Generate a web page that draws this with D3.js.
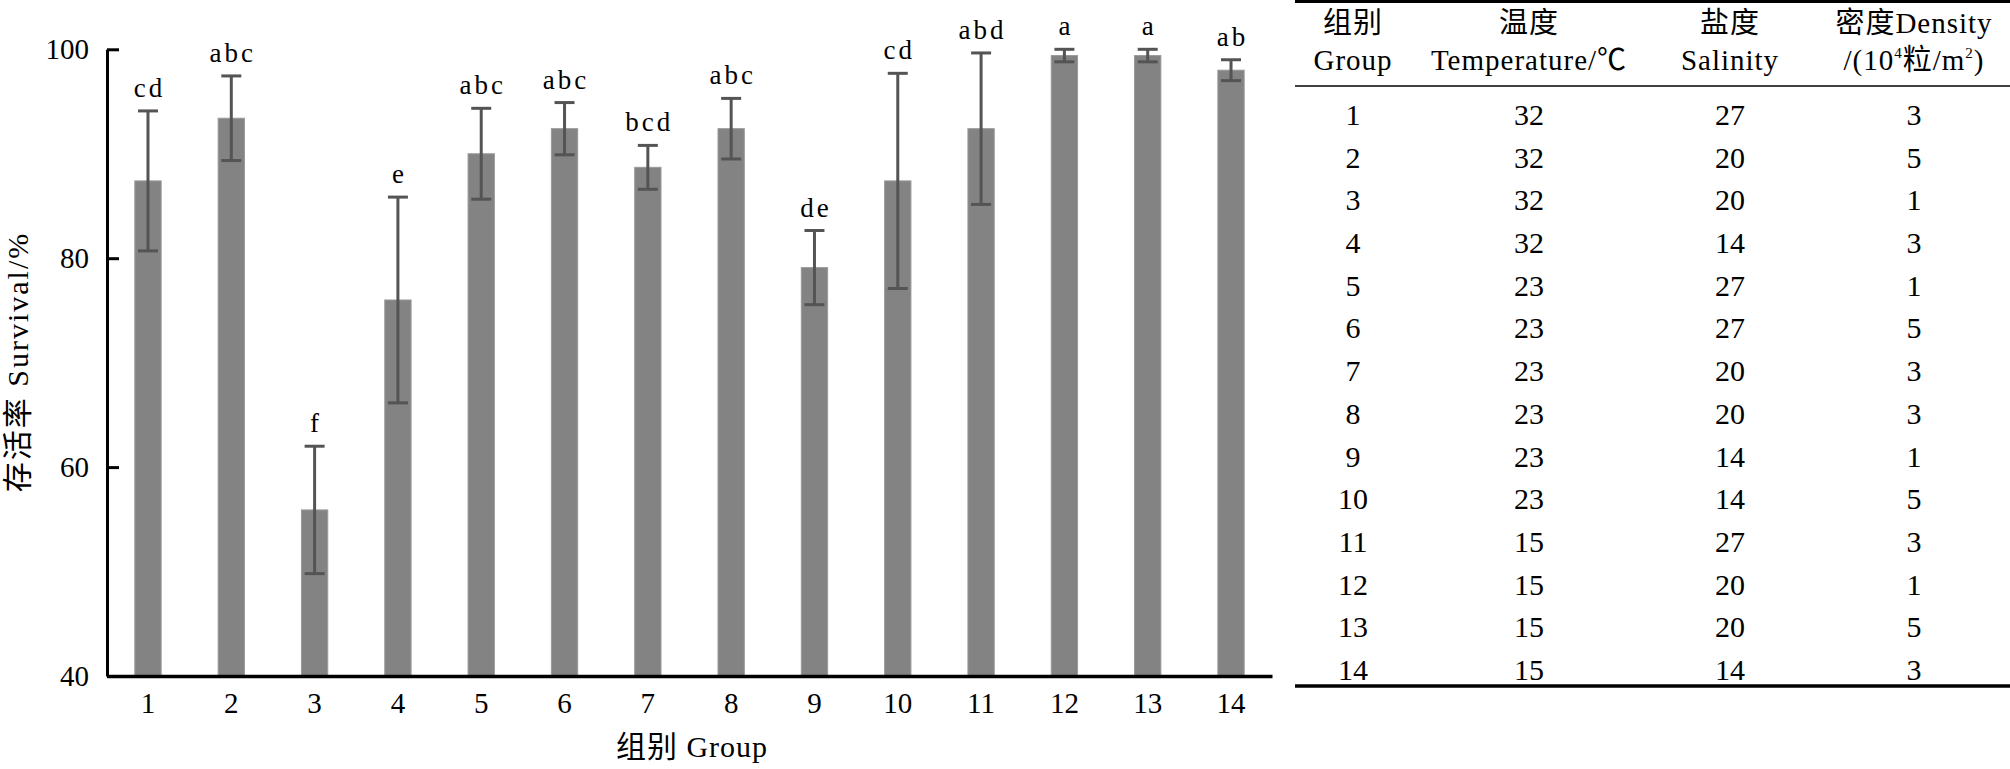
<!DOCTYPE html>
<html>
<head>
<meta charset="utf-8">
<script src="https://cdn.jsdelivr.net/npm/d3@7"></script>
<style>
  html, body { margin: 0; padding: 0; background: #fff; }
  svg text { font-family: "Liberation Serif", "Times New Roman", "Noto Sans CJK SC", serif; fill: #000; }
</style>
</head>
<body>
<svg id="chart" width="2010" height="769"></svg>
<script>
// ---------- data ----------
const groups = ["1","2","3","4","5","6","7","8","9","10","11","12","13","14"];
const survival = [87.4, 93.4, 55.9, 76.0, 90.0, 92.4, 88.7, 92.4, 79.1, 87.4, 92.4, 99.4, 99.4, 98.0];
const survivalErr = [6.7, 4.05, 6.1, 9.85, 4.35, 2.5, 2.1, 2.9, 3.55, 10.3, 7.25, 0.6, 0.6, 1.0];
const letters = ["cd","abc","f","e","abc","abc","bcd","abc","de","cd","abd","a","a","ab"];
const yTicks = [40, 60, 80, 100];

const temperature = [32,32,32,32,23,23,23,23,23,23,15,15,15,15];
const salinity = [27,20,20,14,27,27,20,20,14,14,27,20,20,14];
const density = [3,5,1,3,1,5,3,3,1,5,3,1,5,3];
const headerTop = ["组别", "温度", "盐度", "密度Density"];
const headerBottom = ["Group", "Temperature/℃", "Salinity", null];

const yTitle = "存活率 Survival/%";
const xTitle = "组别 Group";

// ---------- chart ----------
const svg = d3.select("#chart");
const x = d3.scaleBand().domain(groups).range([107, 1272]).paddingInner(0.684).paddingOuter(0.334);
const y = d3.scaleLinear().domain([40, 100]).range([676, 49.3]);

const g = svg.append("g");

// bars
g.selectAll("rect.bar").data(groups).join("rect")
  .attr("class", "bar")
  .attr("x", d => x(d))
  .attr("width", x.bandwidth())
  .attr("y", (d, i) => y(survival[i]))
  .attr("height", (d, i) => y(40) - y(survival[i]))
  .attr("fill", "#838383")
  .attr("stroke", "#9a9a9a")
  .attr("stroke-width", 1);

// error bars
const capW = 20;
const eb = g.selectAll("g.eb").data(groups).join("g").attr("class", "eb")
  .attr("stroke", "#545454").attr("stroke-width", 3);
eb.append("line")
  .attr("x1", d => x(d) + x.bandwidth() / 2).attr("x2", d => x(d) + x.bandwidth() / 2)
  .attr("y1", (d, i) => y(survival[i] + survivalErr[i]))
  .attr("y2", (d, i) => y(survival[i] - survivalErr[i]));
eb.append("line")
  .attr("x1", d => x(d) + x.bandwidth() / 2 - capW / 2).attr("x2", d => x(d) + x.bandwidth() / 2 + capW / 2)
  .attr("y1", (d, i) => y(survival[i] + survivalErr[i]))
  .attr("y2", (d, i) => y(survival[i] + survivalErr[i]));
eb.append("line")
  .attr("x1", d => x(d) + x.bandwidth() / 2 - capW / 2).attr("x2", d => x(d) + x.bandwidth() / 2 + capW / 2)
  .attr("y1", (d, i) => y(survival[i] - survivalErr[i]))
  .attr("y2", (d, i) => y(survival[i] - survivalErr[i]));

// significance letters
g.selectAll("text.sig").data(groups).join("text")
  .attr("class", "sig")
  .attr("x", d => x(d) + x.bandwidth() / 2 + 1.5)
  .attr("y", (d, i) => y(survival[i] + survivalErr[i]) - 14)
  .attr("text-anchor", "middle")
  .attr("font-size", 27)
  .attr("letter-spacing", 3)
  .text((d, i) => letters[i]);

// axes
const yAxis = d3.axisLeft(y).tickValues(yTicks).tickSizeInner(-12).tickSizeOuter(0).tickPadding(18);
const ya = svg.append("g").attr("transform", "translate(107,0)").call(yAxis);
ya.select(".domain").attr("stroke", "#000").attr("stroke-width", 3);
ya.selectAll(".tick line").attr("stroke", "#000").attr("stroke-width", 3);
ya.selectAll(".tick text").attr("font-size", 29).attr("font-family", null);

const xAxis = d3.axisBottom(x).tickSize(0).tickPadding(16);
const xa = svg.append("g").attr("transform", "translate(0,676)").call(xAxis);
xa.select(".domain").attr("stroke", "#000").attr("stroke-width", 3.5);
xa.selectAll(".tick text").attr("font-size", 29).attr("font-family", null);

svg.append("text")
  .attr("transform", "translate(28,362) rotate(-90)")
  .attr("text-anchor", "middle")
  .attr("font-size", 30)
  .attr("letter-spacing", 2)
  .text(yTitle);

svg.append("text")
  .attr("x", 692).attr("y", 757)
  .attr("text-anchor", "middle")
  .attr("font-size", 30)
  .attr("letter-spacing", 1)
  .text(xTitle);

// ---------- table ----------
const colX = [1353, 1529, 1730, 1914];
const tLeft = 1295, tRight = 2010;
const tbl = svg.append("g");
tbl.append("line").attr("x1", tLeft).attr("x2", tRight).attr("y1", 1.5).attr("y2", 1.5)
  .attr("stroke", "#000").attr("stroke-width", 3);
tbl.append("line").attr("x1", tLeft).attr("x2", tRight).attr("y1", 86).attr("y2", 86)
  .attr("stroke", "#000").attr("stroke-width", 1.5);
tbl.append("line").attr("x1", tLeft).attr("x2", tRight).attr("y1", 686).attr("y2", 686)
  .attr("stroke", "#000").attr("stroke-width", 3.5);

tbl.selectAll("text.h1").data(headerTop).join("text")
  .attr("class", "h1")
  .attr("x", (d, i) => colX[i]).attr("y", 33)
  .attr("text-anchor", "middle").attr("font-size", 29).attr("letter-spacing", 1)
  .text(d => d);
tbl.selectAll("text.h2").data(headerBottom.filter(d => d)).join("text")
  .attr("class", "h2")
  .attr("x", (d, i) => colX[i]).attr("y", 70)
  .attr("text-anchor", "middle").attr("font-size", 29).attr("letter-spacing", 1)
  .text(d => d);
const dh = tbl.append("text").attr("x", colX[3]).attr("y", 70)
  .attr("text-anchor", "middle").attr("font-size", 29).attr("letter-spacing", 1);
dh.append("tspan").text("/(10");
dh.append("tspan").attr("font-size", 15).attr("dy", -12).text("4");
dh.append("tspan").attr("dy", 12).text("粒/m");
dh.append("tspan").attr("font-size", 15).attr("dy", -12).text("2");
dh.append("tspan").attr("dy", 12).text(")");

const rowY = d3.scaleLinear().domain([0, 13]).range([125, 680]);
const rows = tbl.selectAll("g.row").data(groups).join("g").attr("class", "row");
const cols = [groups, temperature, salinity, density];
cols.forEach((arr, c) => {
  rows.append("text")
    .attr("x", colX[c])
    .attr("y", (d, i) => rowY(i))
    .attr("text-anchor", "middle")
    .attr("font-size", 30)
    .text((d, i) => arr[i]);
});
</script>
</body>
</html>
